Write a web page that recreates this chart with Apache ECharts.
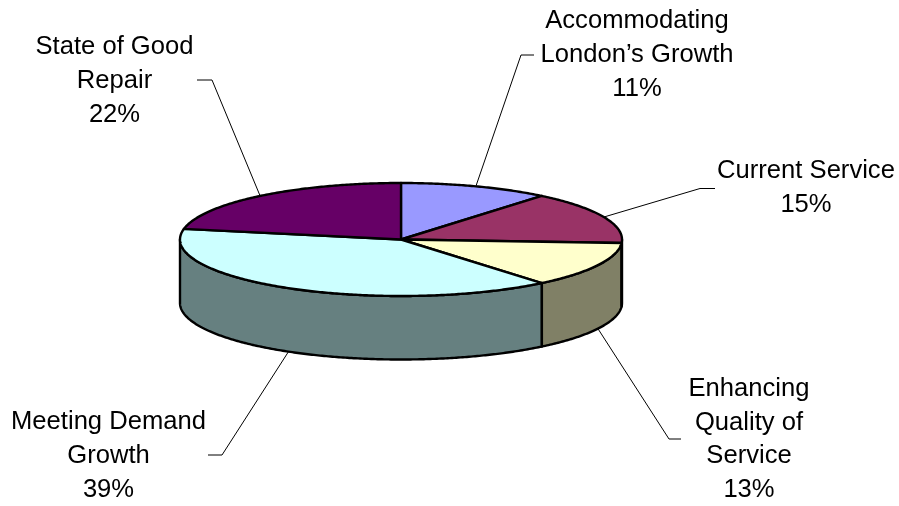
<!DOCTYPE html>
<html>
<head>
<meta charset="utf-8">
<style>html,body{margin:0;padding:0;background:#fff}#c{width:899px;height:506px}</style>
<script src="https://cdn.jsdelivr.net/npm/echarts@6/dist/echarts.min.js"></script>
</head>
<body>
<div id="c"></div>
<script>
// Data
var categories = ["Accommodating\nLondon\u2019s Growth", "Current Service", "Enhancing\nQuality of\nService", "Meeting Demand\nGrowth", "State of Good\nRepair"];
var shares = [11, 15, 13, 39, 22];

// Styles
var topColors = ["#9999FF", "#993366", "#FFFFCC", "#CCFFFF", "#660066"];
var sideColors = ["#666699", "#662244", "#808066", "#668080", "#330033"];

// Layout of the drawing
var CX = 401, CY = 239.5, RX = 221, RY = 56.5, DEPTH = 63.5;
var labelCentres = [[637, 55], [806, 188], [749, 439.5], [108.5, 456], [114.5, 81]];
var leaderElbows = [[[521, 55], [534, 55]], [[700, 188.5], [715, 188.5]], [[669, 439], [681, 439]], [[222, 455], [208, 455]], [[212, 80], [197, 80]]];

var total = shares.reduce(function (a, b) { return a + b; }, 0);
function startAngle(i) {
  var s = 0;
  for (var k = 0; k < i; k++) s += shares[k];
  return s / total * Math.PI * 2;
}
function endAngle(i) { return startAngle(i) + shares[i] / total * Math.PI * 2; }
function rim(a, dy) {
  return [CX + RX * Math.sin(a), CY - RY * Math.cos(a) + (dy || 0)];
}
function arc(a0, a1, dy) {
  var pts = [], n = Math.max(2, Math.ceil(Math.abs(a1 - a0) / 0.01));
  for (var k = 0; k <= n; k++) pts.push(rim(a0 + (a1 - a0) * k / n, dy));
  return pts;
}
var seriesData = categories.map(function (c, i) { return { name: c, value: [shares[i]] }; });

function renderSide(params) {
  var i = params.dataIndex;
  var a0 = Math.max(startAngle(i), Math.PI / 2), a1 = Math.min(endAngle(i), Math.PI * 1.5);
  if (a1 <= a0) return { type: 'group', children: [] };
  var pts = arc(a0, a1, 0).concat(arc(a1, a0, DEPTH));
  return {
    type: 'polygon', silent: true,
    z2: Math.round(-(a1 - a0) * 100),
    shape: { points: pts },
    style: { fill: sideColors[i], stroke: '#000', lineWidth: 2.4, lineJoin: 'round' }
  };
}
function renderTop(params) {
  var i = params.dataIndex;
  var pts = [[CX, CY]].concat(arc(startAngle(i), endAngle(i), 0));
  return {
    type: 'polygon', silent: true,
    shape: { points: pts },
    style: { fill: topColors[i], stroke: '#000', lineWidth: 2.4, lineJoin: 'round' }
  };
}
function renderLabel(params, api) {
  var i = params.dataIndex;
  var mid = (startAngle(i) + endAngle(i)) / 2;
  var front = mid > Math.PI / 2 && mid < Math.PI * 1.5;
  var anchor = rim(mid, front ? DEPTH : 0);
  return {
    type: 'group', silent: true,
    children: [
      {
        type: 'polyline',
        shape: { points: [anchor].concat(leaderElbows[i]) },
        style: { fill: null, stroke: '#000', lineWidth: 1 }
      },
      {
        type: 'text',
        style: {
          text: categories[i] + '\n' + api.value(0) + '%',
          x: labelCentres[i][0], y: labelCentres[i][1],
          align: 'center', verticalAlign: 'middle',
          font: '25.6px "Liberation Sans", Arial, sans-serif',
          lineHeight: 33.8, fill: '#000'
        }
      }
    ]
  };
}
var chart = echarts.init(document.getElementById('c'), null, { renderer: 'canvas' });
chart.setOption({
  animation: false,
  backgroundColor: '#fff',
  series: [
    { type: 'custom', coordinateSystem: 'none', z: 1, data: seriesData, renderItem: renderLabel },
    { type: 'custom', coordinateSystem: 'none', z: 2, data: seriesData, renderItem: renderSide },
    { type: 'custom', coordinateSystem: 'none', z: 3, data: seriesData, renderItem: renderTop }
  ]
});
</script>
</body>
</html>
